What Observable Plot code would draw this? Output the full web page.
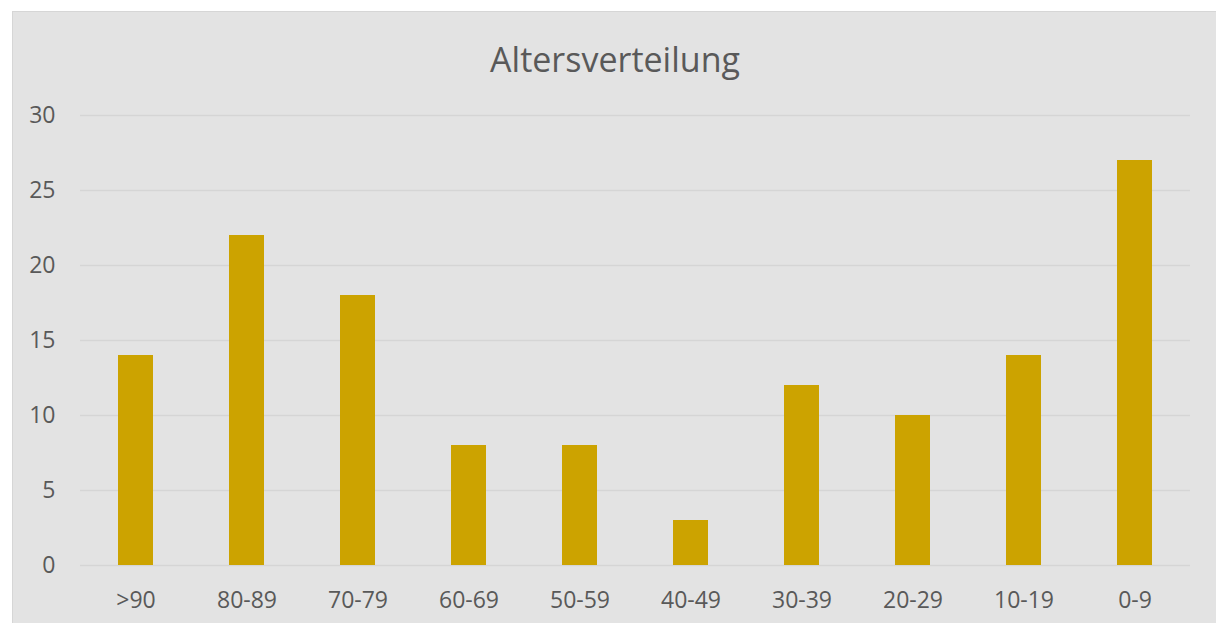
<!DOCTYPE html>
<html>
<head>
<meta charset="utf-8">
<script src="https://cdn.jsdelivr.net/npm/d3@7"></script>
<script src="https://cdn.jsdelivr.net/npm/@observablehq/plot@0.6"></script>
<style>
  html, body { margin: 0; padding: 0; background: #ffffff; overflow: hidden; }
  #box {
    position: absolute; left: 12px; top: 11px; width: 1206px; height: 640px;
    box-sizing: border-box; border: 1px solid #d6d6d6; background: #e3e3e3;
    font-family: "Open Sans", "Noto Sans", sans-serif;
  }
  #title {
    position: absolute; left: 0; right: 0; top: 25px; text-align: center;
    font-size: 34px; color: #595959; line-height: 44px;
  }
  #chart { position: absolute; left: 0; top: 80px; }
</style>
</head>
<body>
<div id="box">
  <div id="title">Altersverteilung</div>
  <div id="chart"></div>
</div>
<script>
const categories = [">90", "80-89", "70-79", "60-69", "50-59", "40-49", "30-39", "20-29", "10-19", "0-9"];
const values = [14, 22, 18, 8, 8, 3, 12, 10, 14, 27];
const yTicks = [0, 5, 10, 15, 20, 25, 30];

const data = categories.map((c, i) => ({ category: c, value: values[i] }));

const chart = Plot.plot({
  width: 1204,
  height: 531,
  marginLeft: 67,
  marginRight: 27,
  marginTop: 23,
  marginBottom: 58,
  style: { background: "transparent", fontFamily: "'Open Sans', 'Noto Sans', sans-serif", fontSize: "23px", color: "#595959" },
  x: { domain: categories, paddingInner: 0.685, paddingOuter: 0.3425, label: null, tickSize: 0, tickPadding: 26 },
  y: { domain: [0, 30], ticks: yTicks, label: null, tickSize: 0, tickPadding: 25 },
  marks: [
    Plot.ruleY(yTicks, { stroke: "#d5d5d5", strokeWidth: 1.5 }),
    Plot.barY(data, { x: "category", y: "value", fill: "#cca300" }),
    Plot.axisX({ tickSize: 0, tickPadding: 26, fill: "#595959", fontSize: 23 }),
    Plot.axisY({ ticks: yTicks, tickSize: 0, tickPadding: 25, fill: "#595959", fontSize: 23 })
  ]
});
document.getElementById("chart").appendChild(chart);
</script>
</body>
</html>
